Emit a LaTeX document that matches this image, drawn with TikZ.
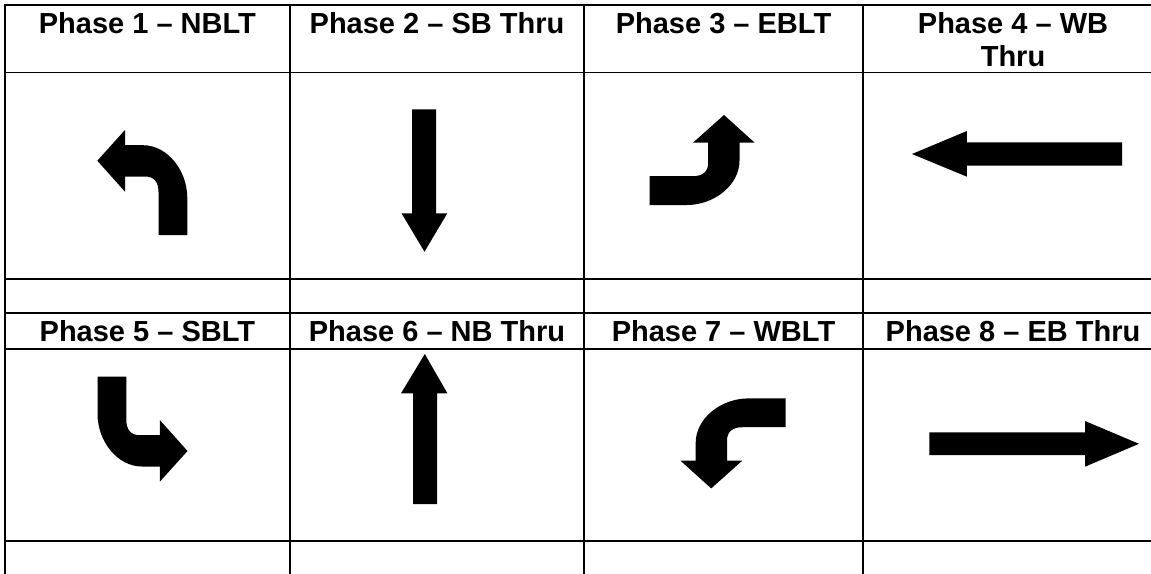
\documentclass[tikz,border=0pt]{standalone}
\usepackage{fontspec}
\setmainfont{Liberation Sans}
\tikzset{
  gridline/.style={line width=1.6pt, black, line cap=rect},
  hdr/.style={font=\fontsize{29}{33}\selectfont\bfseries, anchor=base, inner sep=0pt},
  arrowfill/.style={fill=black},
  turnarrow/.pic={
    \fill[arrowfill] (-45,-21.8) -- (-17.3,-52.5) -- (-17.3,-37.3) -- (0.7,-37.3)
      .. controls (24.7,-37.3) and (45,-12.5) .. (45,15.5)
      -- (45,52.5) -- (16.2,52.5) -- (16.2,9.5)
      .. controls (16.2,-0.5) and (11.7,-6) .. (2.7,-6)
      -- (-17.3,-6) -- (-17.3,9.2) -- cycle;
  }
}
\begin{document}
\begin{tikzpicture}[x=1pt,y=-1pt]
\useasboundingbox (0,0) rectangle (1151,573);
\fill[white] (0,0) rectangle (1151,573);
\clip (0,0) rectangle (1151,573);
% grid
\foreach \yy in {4.7,72.3,279,313,349,541}
  \draw[gridline] (4.7,\yy) -- (1170,\yy);
\foreach \xx in {4.7,290,584,863}
  \draw[gridline] (\xx,4.7) -- (\xx,590);
% headers
\node[hdr] (h1) at (147.4,33.5) {Phase 1 – NBLT};
\node[hdr] (h2) at (437,33.5) {Phase 2 – SB Thru};
\node[hdr] (h3) at (723.5,33.5) {Phase 3 – EBLT};
\node[hdr] (h4a) at (1013,33.5) {Phase 4 – WB};
\node[hdr] (h4b) at (1013,66.7) {Thru};
\node[hdr] (h5) at (147.4,341.7) {Phase 5 – SBLT};
\node[hdr] (h6) at (437,341.7) {Phase 6 – NB Thru};
\node[hdr] (h7) at (723.5,341.7) {Phase 7 – WBLT};
\node[hdr] (h8) at (1013,341.7) {Phase 8 – EB Thru};
% turn arrows
\pic at (142.3,182.5) {turnarrow};
\pic[rotate=-90] at (702.2,160) {turnarrow};
\pic[rotate=180] at (142.5,429.2) {turnarrow};
\pic[rotate=90] at (733,443.4) {turnarrow};
% through arrows
\fill[arrowfill] (412,109.3) -- (436,109.3) -- (436,213.3) -- (447.3,213.3) -- (424.5,251.7) -- (401.5,213.3) -- (412,213.3) -- cycle;
\fill[arrowfill] (413,504) -- (437,504) -- (437,393.3) -- (447.4,393.3) -- (424.8,354) -- (401,393.3) -- (413,393.3) -- cycle;
\fill[arrowfill] (1122,142.3) -- (1122,165.7) -- (966.9,165.7) -- (966.9,176.7) -- (912,154) -- (966.9,131) -- (966.9,142.3) -- cycle;
\fill[arrowfill] (929.4,432.3) -- (1085,432.3) -- (1085,421) -- (1139,443.8) -- (1085,466.7) -- (1085,455) -- (929.4,455) -- cycle;
\end{tikzpicture}
\end{document}
